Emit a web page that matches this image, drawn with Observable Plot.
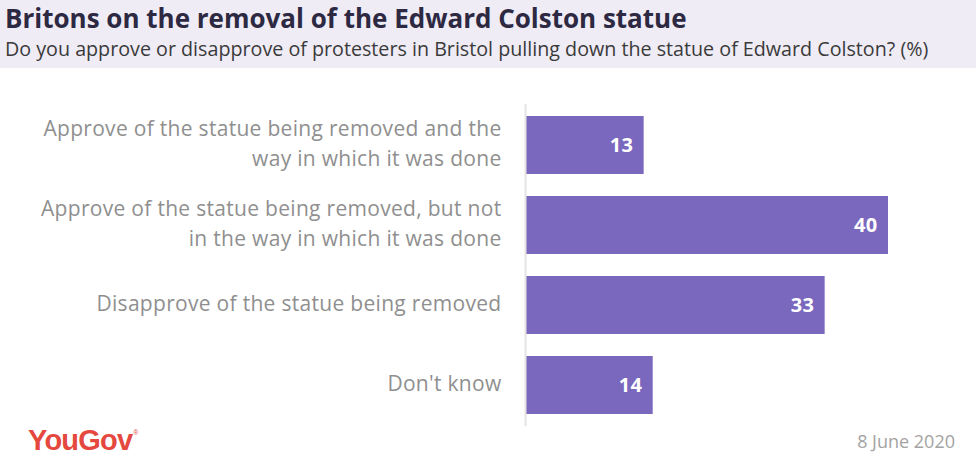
<!DOCTYPE html>
<html>
<head>
<meta charset="utf-8">
<script src="https://cdn.jsdelivr.net/npm/d3@7"></script>
<script src="https://cdn.jsdelivr.net/npm/@observablehq/plot@0.6"></script>
<style>
  html, body { margin: 0; padding: 0; background: #ffffff; }
  #wrap { position: relative; width: 976px; height: 464px; overflow: hidden; font-family: "Open Sans", Lato, sans-serif; }
  #header { position: absolute; left: 0; top: 0; width: 976px; height: 68px; background: #efecf6; }
  #title { position: absolute; left: 5px; top: 0px; font-size: 26px; font-weight: 700; color: #2d2942; white-space: nowrap; }
  #subtitle { position: absolute; left: 5px; top: 35px; font-size: 19.7px; color: #3a3a3a; white-space: nowrap; }
  #chart { position: absolute; left: 0; top: 68px; }
  #logo { position: absolute; left: 28px; top: 424px; font-size: 29px; font-weight: 700; color: #e4483e; letter-spacing: -0.8px; font-family: "Liberation Sans", Arial, sans-serif; }
  #logo sup { font-size: 7px; font-weight: 400; vertical-align: top; position: relative; top: 5px; margin-left: 1px; }
  #date { position: absolute; right: 21px; top: 429px; font-size: 18px; color: #a3a3a3; }
</style>
</head>
<body>
<div id="wrap">
  <div id="header">
    <div id="title">Britons on the removal of the Edward Colston statue</div>
    <div id="subtitle">Do you approve or disapprove of protesters in Bristol pulling down the statue of Edward Colston? (%)</div>
  </div>
  <div id="chart"></div>
  <div id="logo">YouGov<sup>®</sup></div>
  <div id="date">8 June 2020</div>
</div>
<script>
const categories = [
  "Approve of the statue being removed and the\nway in which it was done",
  "Approve of the statue being removed, but not\nin the way in which it was done",
  "Disapprove of the statue being removed",
  "Don't know"
];
const values = [13, 40, 33, 14];

const data = categories.map((c, i) => ({category: c, value: values[i]}));

const chart = Plot.plot({
  width: 976,
  height: 360,
  marginLeft: 526,
  marginRight: 88,
  marginTop: 36,
  marginBottom: 2,
  style: {fontFamily: "'Open Sans', Lato, sans-serif", background: "transparent", letterSpacing: "0.3px"},
  x: {domain: [0, 40], axis: null},
  y: {domain: categories, paddingInner: 0.27, paddingOuter: 0.135, align: 0.5, label: null},
  marks: [
    Plot.barX(data, {x: "value", y: "category", fill: "#7a67be"}),
    Plot.ruleX([0], {stroke: "#e6e3e3", strokeWidth: 2, dx: -1}),
    Plot.axisY({tickSize: 0, tickPadding: 25, fontSize: 21, fill: "#8f8f8f", lineHeight: 1.4, dy: -4, label: null, textAnchor: "end"}),
    Plot.text(data, {x: "value", y: "category", text: d => String(d.value), dx: -11, textAnchor: "end", fill: "white", fontSize: 20, fontWeight: 700})
  ]
});
document.getElementById("chart").appendChild(chart);
</script>
</body>
</html>
